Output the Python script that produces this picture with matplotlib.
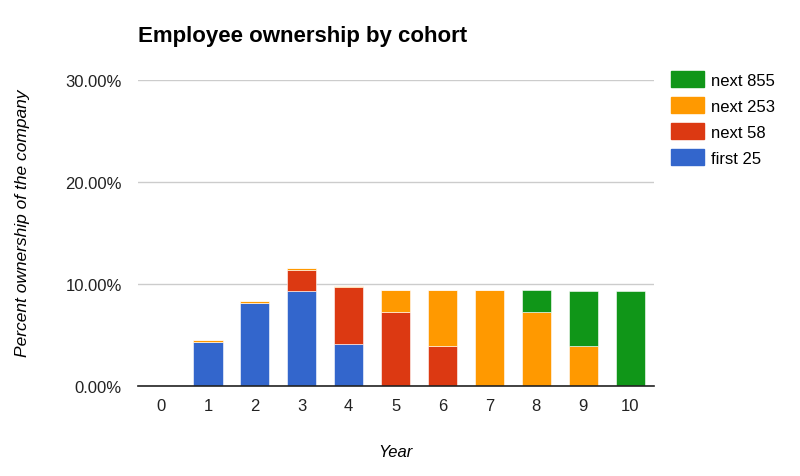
import numpy as np
import matplotlib.pyplot as plt
from matplotlib.ticker import FuncFormatter
from matplotlib.patches import Patch

# Data (percent ownership)
years = [0, 1, 2, 3, 4, 5, 6, 7, 8, 9, 10]
first_25 = [0, 4.3, 8.1, 9.3, 4.1, 0, 0, 0, 0, 0, 0]
next_58 = [0, 0, 0, 2.05, 5.55, 7.2, 3.9, 0, 0, 0, 0]
next_253 = [0, 0.18, 0.18, 0.18, 0.18, 2.2, 5.5, 9.4, 7.2, 3.9, 0]
next_855 = [0, 0, 0, 0, 0, 0, 0, 0, 2.2, 5.4, 9.3]

series = [("first 25", first_25, "#3366cc"),
          ("next 58", next_58, "#dc3912"),
          ("next 253", next_253, "#ff9900"),
          ("next 855", next_855, "#109618")]

plt.rcParams['font.family'] = ['Liberation Sans', 'DejaVu Sans']

fig = plt.figure(figsize=(8, 4.77), dpi=100)
ax = fig.add_axes([0.172, 0.189, 0.645, 0.641])

bottom = np.zeros(len(years))
for name, vals, color in series:
    vals = np.array(vals)
    ax.bar(years, vals, bottom=bottom, width=0.62, color=color,
           edgecolor='white', linewidth=0.4, zorder=3)
    bottom += vals

ax.set_xlim(-0.5, 10.5)
ax.set_ylim(0, 30)
ax.set_yticks([0, 10, 20, 30])
ax.yaxis.set_major_formatter(FuncFormatter(lambda v, p: f"{v:.2f}%"))
ax.set_xticks(years)
ax.grid(axis='y', color='#cccccc', linewidth=1, zorder=0)
for s in ['top', 'right', 'left']:
    ax.spines[s].set_visible(False)
ax.spines['bottom'].set_color('#222222')
ax.spines['bottom'].set_linewidth(1.2)
ax.spines['bottom'].set_zorder(4)
ax.tick_params(length=0, labelsize=12, colors='#222222')
ax.tick_params(axis='x', pad=9)
ax.tick_params(axis='y', pad=11.5)

ax.set_title("Employee ownership by cohort", loc='left', fontsize=16,
             fontweight='bold', pad=28)
ax.set_xlabel("Year", fontsize=12, style='italic', labelpad=22)
ax.set_ylabel("Percent ownership of the company", fontsize=12.5,
              style='italic', va='center')
ax.yaxis.set_label_coords(-0.224, 0.534)

handles = [Patch(facecolor=c, edgecolor=c, label=n) for n, v, c in series[::-1]]
fig.legend(handles=handles, loc='upper left', bbox_to_anchor=(0.822, 0.876),
           frameon=False, fontsize=12, handlelength=2.0, handleheight=1.1,
           labelspacing=0.55, handletextpad=0.4, borderpad=0.3)

fig.savefig("out.png", dpi=100)
